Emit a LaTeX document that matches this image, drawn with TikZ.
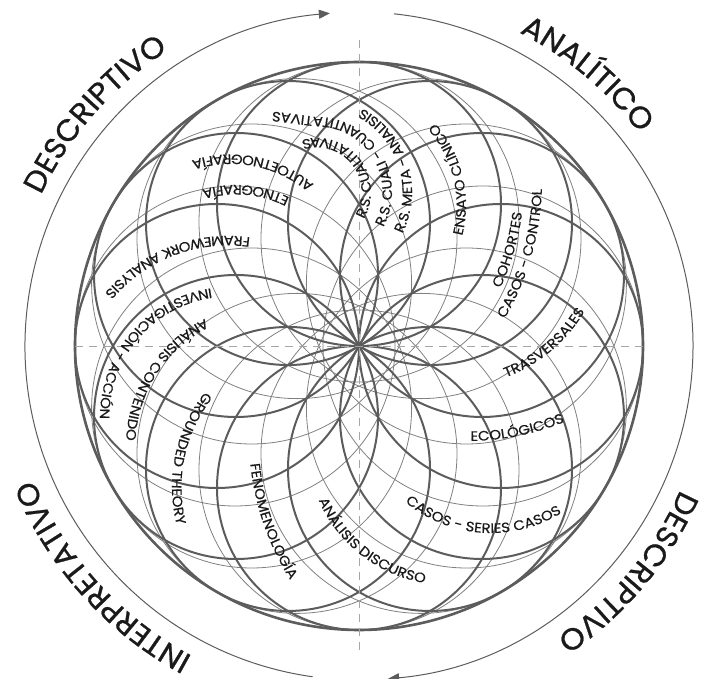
\documentclass[tikz,border=0pt]{standalone}
\usepackage{fontspec}
\setmainfont{Poppins}
\newfontfamily\labface{Poppins}[FakeBold=0.5,FakeStretch=1.1]
\newfontfamily\bigface{Poppins}[FakeBold=0.8,FakeStretch=1.04]
\usetikzlibrary{decorations.text,arrows.meta}
\definecolor{ink}{HTML}{1A1A1A}
\definecolor{heavy}{HTML}{5C5C5C}
\definecolor{light}{HTML}{808080}
\definecolor{guide}{HTML}{A6A6A6}
\newcommand\labfont{\labface\fontsize{13.6}{14}\selectfont}
\newcommand\bigfont{\bigface\fontsize{30}{31}\selectfont}
% text along a circular arc: centre x, centre y, radius, middle angle, sense (1 = ccw, -1 = cw), text, font
\newcommand\arclabel[7]{%
  \path[decorate,decoration={text along path,text align=center,text color=ink,text={|#7|#6}}]
    ([shift={({#4-(#5)*100}:#3)}]#1,#2) arc[start angle={#4-(#5)*100}, end angle={#4+(#5)*100}, radius=#3];
}
\tikzset{
  thincirc/.style={draw=light,line width=0.8pt},
  heavycirc/.style={draw=heavy,line width=2pt},
  rim/.style={draw=heavy,line width=2.6pt},
  guideline/.style={draw=guide,line width=0.9pt,dash pattern=on 8pt off 6pt},
  flow/.style={draw=heavy,line width=1pt,-{Triangle[length=11pt,width=9pt]}},
  rstext/.style={decorate,decoration={text along path,text color=ink,text={|\labfont|#1}}}
}
\begin{document}
\begin{tikzpicture}[x=1pt,y=1pt]
\useasboundingbox (-359,-333) rectangle (343,346);
\coordinate (c) at (0,0);
\coordinate (rs) at (-42,154);
% light rosette (wider circles around the centre)
\foreach \a in {0,30,...,330} \draw[thincirc] (\a:124) circle[radius=160];
% heavy rosette through the centre
\foreach \a in {0,30,...,330} \draw[heavycirc] (\a:142) circle[radius=142];
% rim
\draw[rim] (c) circle[radius=284];
% axes
\draw[guideline] (0,306) -- (0,-306);
\draw[guideline] (-284,0) -- (285,0);
% outer flow arcs
\draw[flow] (262:334) arc[start angle=262, end angle=95, radius=334];
\draw[flow] (84:334) arc[start angle=84, end angle=-85, radius=334];
% outer words
\arclabel{0}{0}{352}{138.7}{-1}{DESCRIPTIVO}{\bigfont}
\arclabel{0}{0}{352}{50}{-1}{ANALÍTICO}{\bigfont}
\arclabel{0}{0}{352}{-40}{-1}{DESCRIPTIVO}{\bigfont}
\arclabel{0}{0}{352}{-138}{-1}{INTERPRETATIVO}{\bigfont}
% inner words
\arclabel{-17}{141}{124}{13.5}{1}{ENSAYO CLÍNICO}{\labfont}
\arclabel{-90}{165}{255}{-16}{1}{COHORTES}{\labfont}
\arclabel{-90}{165}{273}{-16}{1}{CASOS - CONTROL}{\labfont}
\arclabel{93}{113}{154}{-50}{1}{TRASVERSALES}{\labfont}
\arclabel{109}{159}{254}{-78.5}{1}{ECOLÓGICOS}{\labfont}
\arclabel{132}{-53}{134}{-94}{1}{CASOS - SERIES CASOS}{\labfont}
\arclabel{89}{-98}{141}{-128}{1}{ANÁLISIS DISCURSO}{\labfont}
\arclabel{158}{-91}{268}{199}{1}{FENOMENOLOGÍA}{\labfont}
\arclabel{-34}{-141}{153}{168}{1}{GROUNDED THEORY}{\labfont}
\arclabel{-91}{-100}{142}{147}{1}{ANÁLISIS CONTENIDO}{\labfont}
\arclabel{-129}{-71}{130}{139.6}{1}{INVESTIGACIÓN - ACCIÓN}{\labfont}
\arclabel{-131}{-51}{161}{111}{1}{FRAMEWORK ANALYSIS}{\labfont}
\arclabel{-123}{41}{120}{85}{1}{ETNOGRAFÍA}{\labfont}
\arclabel{-128}{62}{129.5}{79}{1}{AUTOETNOGRAFÍA}{\labfont}
% systematic reviews: three nested runs curling to the left
\path[rstext={R.S. META - ANALISIS}]
  ([shift={(-26:95)}]rs) arc[start angle=-26, end angle=130, radius=95];
\path[rstext={R.S. CUALI - CUANTITATIVAS}]
  ([shift={(-28:75)}]rs) arc[start angle=-28, end angle=90, radius=75] -- ++(-130,16);
\path[rstext={R.S. CUALITATIVAS}]
  ([shift={(-30:54)}]rs) arc[start angle=-30, end angle=170, radius=54];
\end{tikzpicture}
\end{document}
